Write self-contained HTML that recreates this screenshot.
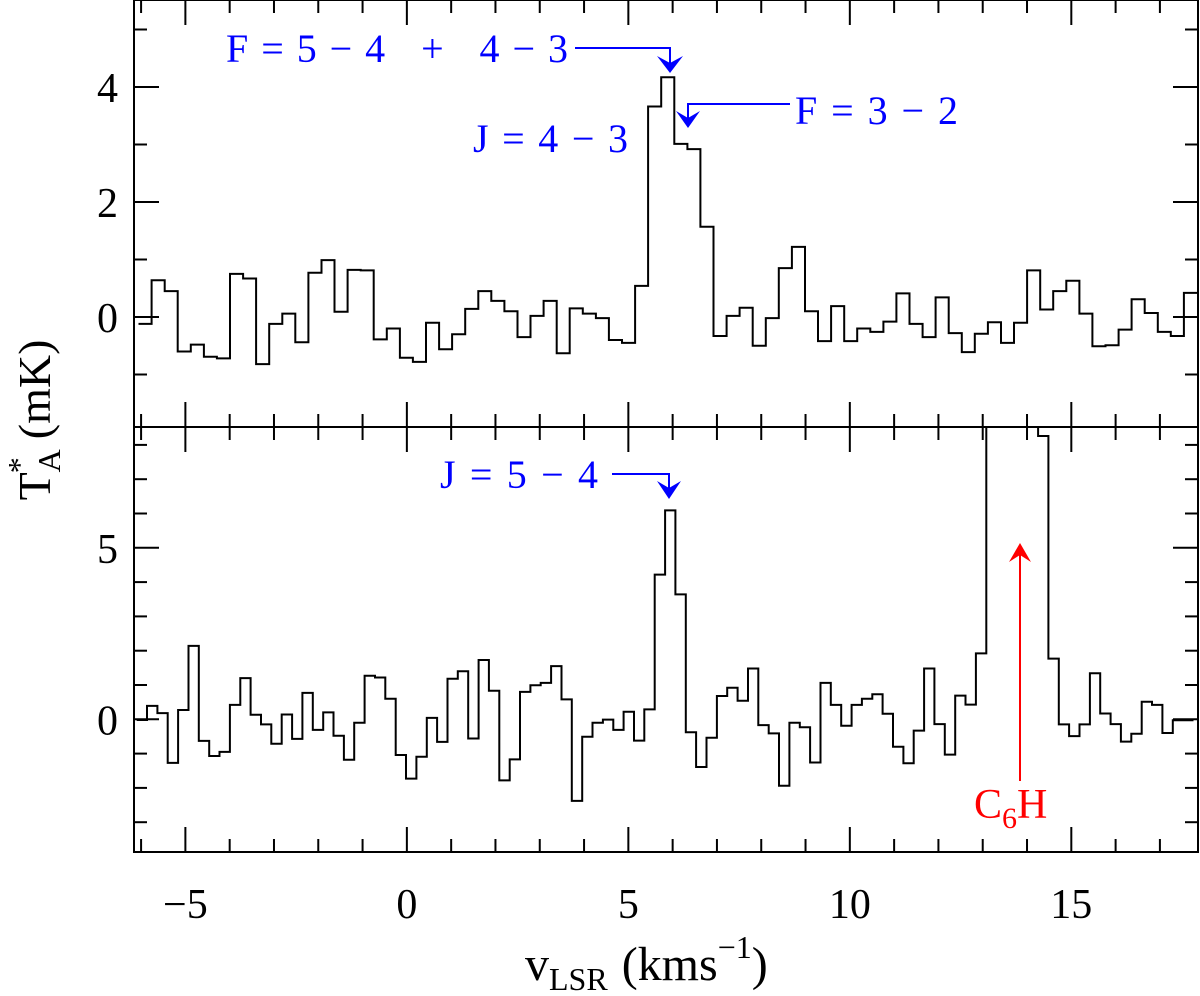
<!DOCTYPE html>
<html><head><meta charset="utf-8"><style>
html,body{margin:0;padding:0;background:#fff;}
svg{display:block;font-family:"Liberation Serif",serif;}
</style></head><body>
<svg id="chart" width="1200" height="996" viewBox="0 0 1200 996" xmlns="http://www.w3.org/2000/svg">
<defs>
<clipPath id="clipTop"><rect x="134" y="0" width="1064" height="427"/></clipPath>
<clipPath id="clipBot"><rect x="134" y="427" width="1064" height="425"/></clipPath>
</defs>
<g id="axes"></g>
<g id="spec-top" clip-path="url(#clipTop)"></g>
<g id="spec-bot" clip-path="url(#clipBot)"></g>
<g id="frame">
<rect x="134" y="0" width="1064" height="852" fill="none" stroke="#000" stroke-width="2"/>
<line x1="134" y1="427" x2="1198" y2="427" stroke="#000" stroke-width="2"/>
</g>
<g fill="#0000ff" font-size="40">
<text x="226" y="62" textLength="342" lengthAdjust="spacing">F=5−4 + 4−3</text>
<path d="M575 48 H670 V70" stroke="#0000ff" stroke-width="2" fill="none"/>
<path d="M657 56 L670 73 L683 56 L670 63 Z" fill="#0000ff"/>
<text x="473" y="152" textLength="155" lengthAdjust="spacing">J=4−3</text>
<text x="795" y="124" textLength="163" lengthAdjust="spacing">F=3−2</text>
<path d="M790 104 H688 V126" stroke="#0000ff" stroke-width="2" fill="none"/>
<path d="M676 111 L688 128 L700 111 L688 118 Z" fill="#0000ff"/>
<text x="440" y="488" textLength="158" lengthAdjust="spacing">J=5−4</text>
<path d="M612 474 H669 V496" stroke="#0000ff" stroke-width="2" fill="none"/>
<path d="M657 481 L669 499 L681 481 L669 488 Z" fill="#0000ff"/>
<line x1="1020" y1="781" x2="1020" y2="548" stroke="#ff0000" stroke-width="2"/>
<path d="M1009 562 L1020 543 L1031 562 L1020 555 Z" fill="#ff0000"/>
<text x="974" y="818" fill="#ff0000" font-size="42">C<tspan font-size="30" dy="10">6</tspan><tspan dy="-10">H</tspan></text>
</g>
<text transform="translate(50,420) rotate(-90)" text-anchor="middle" font-size="46">T<tspan font-size="32" dy="10">A</tspan><tspan font-size="32" dx="-24" dy="-30">*</tspan><tspan dy="20" dx="18">(mK)</tspan></text>
<text x="525" y="980" font-size="48">v<tspan font-size="32" dy="10">LSR</tspan><tspan dy="-10" dx="14">(kms</tspan><tspan font-size="32" dy="-22">−1</tspan><tspan dy="22">)</tspan></text>
</svg>
<script>
// x-axis
const xTickLabels = [-5, 0, 5, 10, 15];
// top panel (J=4-3): channel start velocity, channel width, values (mK)
const topStartV = -6.058;
const topChanW = 0.2950;
const topValues = [-0.12,
 0.64,0.45,-0.60,-0.48,-0.69,-0.72,0.75,0.67,-0.82,-0.12,0.06,-0.44,0.77,0.99,0.09,0.82,0.81,-0.39,-0.20,-0.71,-0.78,-0.10,-0.56,-0.30,0.14,0.45,0.28,0.10,
 -0.35,0.02,0.28,-0.63,0.15,0.06,-0.02,-0.40,-0.45,0.54,3.66,4.17,3.01,2.92,1.57,-0.33,0.02,0.16,-0.50,-0.02,0.85,1.22,0.10,-0.42,
 0.19,-0.42,-0.20,-0.26,-0.08,0.41,-0.12,-0.35,0.34,-0.28,-0.61,-0.29,-0.09,-0.45,-0.10,0.81,0.13,0.45,0.63,0.06,-0.51,-0.49,-0.22,0.31,0.07,-0.26,-0.33,0.42];
const topTickLabels = [0, 2, 4];
// bottom panel (J=5-4)
const botStartV = -6.10;
const botChanW = 0.2339;
const botValues = [-0.02,
 0.39,0.18,-1.27,0.27,2.14,-0.63,-1.07,-0.95,0.42,1.20,0.13,-0.15,-0.71,0.14,-0.57,0.77,-0.31,0.20,-0.48,-1.18,-0.10,1.27,1.22,0.60,-1.04,-1.73,-1.09,0.04,-0.66,1.18,1.40,-0.56,1.73,0.83,
 -1.78,-1.17,0.80,0.99,1.06,1.55,0.58,-2.38,-0.51,-0.10,-0.01,-0.31,0.22,-0.62,0.29,4.22,6.09,3.64,-0.38,-1.39,-0.54,0.68,0.92,0.54,1.48,-0.17,-0.41,-1.94,-0.10,-0.23,-1.26,1.06,0.42,
 -0.19,0.42,0.60,0.73,0.16,-0.80,-1.28,-0.33,1.48,-0.14,-1.03,0.69,0.43,1.92,10,12,12,11,10,8.26,1.77,-0.15,-0.49,-0.15,1.34,0.17,-0.14,-0.65,-0.42,0.51,0.42,-0.40,-0.03,-0.03];
const botTickLabels = [0, 5];

const NS = "http://www.w3.org/2000/svg";
const X0 = 134, X1 = 1198;
const xMin = -6.16, xMax = 17.86;
function xs(v){ return X0 + (v - xMin) / (xMax - xMin) * (X1 - X0); }
function yTop(t){ return 317 - t * 57.5; }
function yBot(t){ return 719.3 - t * 34.3; }

function mk(tag, attrs, parent){
  const e = document.createElementNS(NS, tag);
  for (const k in attrs) e.setAttribute(k, attrs[k]);
  parent.appendChild(e); return e;
}
const axes = document.getElementById('axes');
for (let v = -6; v <= 17; v++){
  const x = xs(v); const major = v % 5 === 0;
  const L = major ? 25 : 13;
  [[852,852-L],[427,427-L],[427,427+L],[0,L]].forEach(p=>{
    const t = mk('line',{x1:x,x2:x,y1:p[0],y2:p[1],stroke:'#000','stroke-width':2},axes);
    
    
  });
}
xTickLabels.forEach(v=>{
  const t = mk('text',{x:xs(v),y:918,'text-anchor':'middle','font-size':42},axes);
  t.textContent = v < 0 ? '−' + Math.abs(v) : String(v);
  
  
});
for (let t = -1; t <= 5; t++){
  const y = yTop(t); const major = t % 2 === 0; const L = major ? 25 : 13;
  [[X0,X0+L],[X1,X1-L]].forEach(p=>{
    const e = mk('line',{x1:p[0],x2:p[1],y1:y,y2:y,stroke:'#000','stroke-width':2},axes);
    
    
  });
}
topTickLabels.forEach(t=>{
  const e = mk('text',{x:118,y:yTop(t)+15,'text-anchor':'end','font-size':42},axes);
  e.textContent = String(t);
  
  
});
for (let t = -3; t <= 8; t++){
  const y = yBot(t); const major = t % 5 === 0; const L = major ? 25 : 13;
  [[X0,X0+L],[X1,X1-L]].forEach(p=>{
    const e = mk('line',{x1:p[0],x2:p[1],y1:y,y2:y,stroke:'#000','stroke-width':2},axes);
    
    
  });
}
botTickLabels.forEach(t=>{
  const e = mk('text',{x:118,y:yBot(t)+15,'text-anchor':'end','font-size':42},axes);
  e.textContent = String(t);
  
  
});
function histo(vals, v0, w, yf, parentId, name){
  let d = '';
  vals.forEach((val,i)=>{
    const xa = xs(v0 + i*w), xb = xs(v0 + (i+1)*w), y = yf(val);
    d += (i === 0 ? 'M' : 'L') + xa.toFixed(1) + ' ' + y.toFixed(1) + ' L' + xb.toFixed(1) + ' ' + y.toFixed(1) + ' ';
  });
  const p = mk('path',{d:d,fill:'none',stroke:'#000','stroke-width':2},document.getElementById(parentId));
  
  
}
histo(topValues, topStartV, topChanW, yTop, 'spec-top', 'histogram-top');
histo(botValues, botStartV, botChanW, yBot, 'spec-bot', 'histogram-bottom');
</script>
</body></html>
